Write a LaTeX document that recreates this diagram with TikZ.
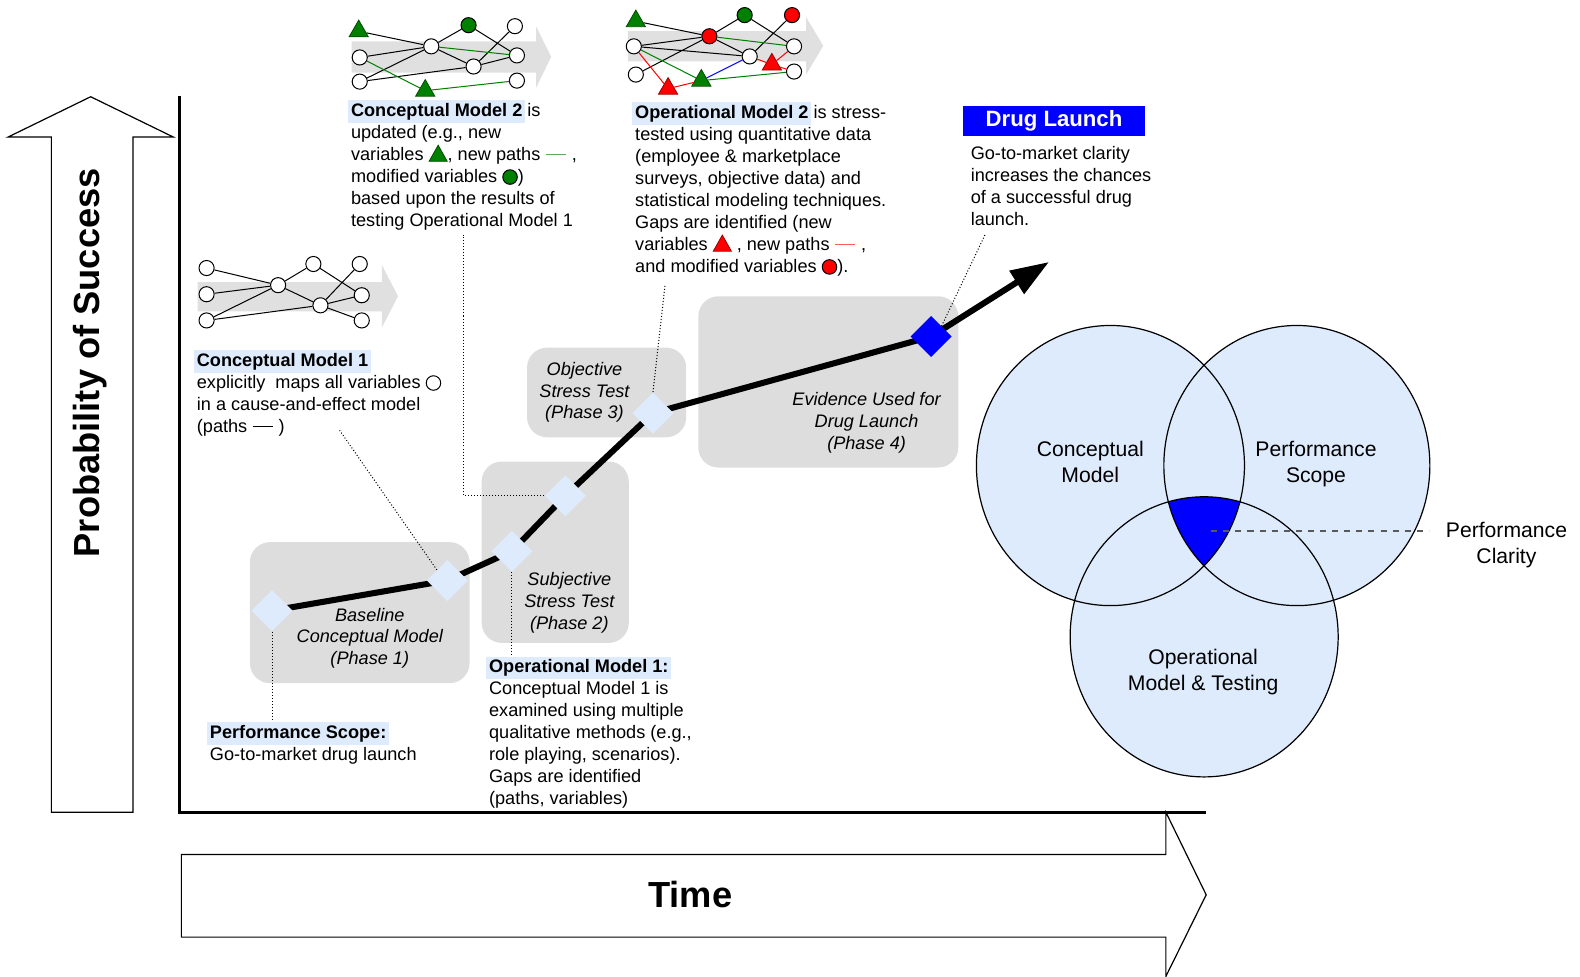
\documentclass[tikz,border=0pt]{standalone}
\usepackage{fontspec}
\setmainfont{Liberation Sans}
\usetikzlibrary{shapes.geometric,arrows.meta}
\definecolor{phasegray}{RGB}{221,221,221}
\definecolor{bandgray}{RGB}{224,224,224}
\definecolor{hlblue}{RGB}{221,235,252}
\definecolor{vgreen}{RGB}{0,128,0}
\definecolor{pathgreen}{RGB}{90,170,90}
\definecolor{pathred}{RGB}{255,90,90}
\newcommand{\hlhead}[1]{\hspace*{-1.4pt}{\setlength{\fboxsep}{1.4pt}\colorbox{hlblue}{\textbf{#1}}}\hspace*{-1.4pt}}
\newcommand{\symvar}[1]{\tikz[baseline=-2.6pt]\draw[line width=0.5pt,fill=#1] (0,0) circle (3.6pt);}
\newcommand{\symtri}[1]{\tikz[baseline=0pt]\draw[line width=0.4pt,draw=#1!60!black,fill=#1] (0,-0.5pt) -- (9pt,-0.5pt) -- (4.5pt,7.5pt) -- cycle;}
\newcommand{\sympath}[1]{\tikz[baseline=-3pt]\draw[line width=0.6pt,#1] (0,0) -- (10pt,0);}
\tikzset{
  txt/.style={align=left,anchor=base west,inner sep=0pt,font=\fontsize{9}{10.9}\selectfont},
  phasetxt/.style={align=center,anchor=base,inner sep=0pt,font=\fontsize{9}{10.8}\selectfont\itshape},
  venntxt/.style={align=center,anchor=base,inner sep=0pt,font=\fontsize{10.5}{13}\selectfont},
  milestone/.style={diamond,fill=hlblue,inner sep=0pt,minimum size=20.5pt},
  var/.style={circle,draw,fill=white,inner sep=0pt,minimum size=7.5pt,line width=0.5pt},
  newvar/.style={regular polygon,regular polygon sides=3,draw=#1!60!black,fill=#1,inner sep=0pt,minimum size=11pt,line width=0.4pt},
  leader/.style={densely dotted,line width=0.5pt},
  blockarrow/.style={draw,fill=white,line width=0.6pt},
  band/.style={fill=bandgray},
  link/.style={line width=0.5pt}
}
\begin{document}
\begin{tikzpicture}[x=0.5pt,y=-0.5pt]
\useasboundingbox (0,0) rectangle (1568,969);

\draw[blockarrow] (51,806) -- (51,136) -- (8,136) -- (90,96) -- (172,136) -- (132,136) -- (132,806) -- cycle;
\node[rotate=90,font=\fontsize{18}{18}\selectfont\bfseries] (prob) at (89,360) {Probability of Success};
\draw[blockarrow] (180,848) -- (1157,848) -- (1157,806) -- (1197,888) -- (1157,969) -- (1157,930) -- (180,930) -- cycle;
\node[font=\fontsize{18}{18}\selectfont\bfseries] (time) at (685,888) {Time};
\draw[line width=1.5pt] (178,95) -- (178,806) -- (1197,806);

\fill[phasegray,rounded corners=10pt] (248,538) rectangle (466,678);
\fill[phasegray,rounded corners=10pt] (478,458) rectangle (624,638);
\fill[phasegray,rounded corners=10pt] (523,345) rectangle (681,434);
\fill[phasegray,rounded corners=10pt] (693,294) rectangle (951,464);
\node[phasetxt] (ph1) at (367,659.7) {Baseline\\Conceptual Model\\(Phase 1)};
\node[phasetxt] (ph2) at (565,624.7) {Subjective\\Stress Test\\(Phase 2)};
\node[phasetxt] (ph3) at (580,415.7) {Objective\\Stress Test\\(Phase 3)};
\node[phasetxt] (ph4) at (860,445.7) {Evidence Used for\\Drug Launch\\(Phase 4)};

\coordinate (m1) at (270,606);
\coordinate (m2) at (444,576);
\coordinate (m3) at (508,547);
\coordinate (m4) at (561,492);
\coordinate (m5) at (648,410);
\coordinate (m6) at (924,334);
\coordinate (launch) at (1041,260);
\draw[line width=3pt,line join=round,-{Triangle[length=19pt,width=13pt]}] (m1) -- (m2) -- (m3) -- (m4) -- (m5) -- (m6) -- (launch);

\node[txt] (cm1) at (195,428.9) {\hlhead{Conceptual Model 1}\\explicitly~ maps all variables \symvar{white}\\in a cause-and-effect model\\(paths \sympath{black} )};
\node[txt] (cm2) at (348,224.5) {\hlhead{Conceptual Model 2} is\\updated (e.g., new\\variables \symtri{vgreen}, new paths \sympath{pathgreen} ,\\modified variables \symvar{vgreen})\\based upon the results of\\testing Operational Model 1};
\node[txt] (om2) at (630,270.1) {\hlhead{Operational Model 2} is stress-\\tested using quantitative data\\(employee \& marketplace\\surveys, objective data) and\\statistical modeling techniques.\\Gaps are identified (new\\variables \symtri{red} , new paths \sympath{pathred} ,\\and modified variables \symvar{red}).};
\node[fill=blue,text=white,font=\fontsize{11}{13}\selectfont\bfseries,minimum width=90pt,minimum height=15pt,inner sep=0pt] (dl) at (1046,120) {Drug Launch};
\node[txt] (dlt) at (963,223.9) {Go-to-market clarity\\increases the chances\\of a successful drug\\launch.};
\node[txt] (ps) at (208,754.3) {\hlhead{Performance Scope:}\\Go-to-market drug launch};
\node[txt] (om1) at (485,798.3) {\hlhead{Operational Model 1:}\\Conceptual Model 1 is\\examined using multiple\\qualitative methods (e.g.,\\role playing, scenarios).\\Gaps are identified\\(paths, variables)};

\node[milestone] (d1) at (m1) {};
\node[milestone] (d2) at (m2) {};
\node[milestone] (d3) at (m3) {};
\node[milestone] (d4) at (m4) {};
\node[milestone] (d5) at (m5) {};
\node[milestone,fill=blue] (d6) at (m6) {};
\draw[leader] (d1.south) -- (d1.south |- ps.north);
\draw[leader] (d2.north west) -- (337,427);
\draw[leader] (d3.south) -- (d3.south |- om1.north);
\draw[leader] (d4.west) -- (460,492) -- (460,233);
\draw[leader] (d5.north) -- (660,283);
\draw[leader] (d6.north east) -- (978,232);

\fill[band] (196,280) -- (379,280) -- (379,263) -- (395,294) -- (379,325) -- (379,309) -- (196,309) -- cycle;
\node[var] (p1) at (205,266) {};
\node[var] (p2) at (205,292) {};
\node[var] (p3) at (205,318) {};
\node[var] (p4) at (276,283) {};
\node[var] (p5) at (311,262) {};
\node[var] (p6) at (318,303) {};
\node[var] (p7) at (357,262) {};
\node[var] (p8) at (359,293) {};
\node[var] (p9) at (359,318) {};
\draw[link] (p1) -- (p4) (p2) -- (p4) (p3) -- (p4) (p3) -- (p6) (p4) -- (p5) (p4) -- (p6)
  (p5) -- (p8) (p6) -- (p7) (p6) -- (p8) (p6) -- (p9);

\fill[band] (349,41) -- (532,41) -- (532,26) -- (547,56.5) -- (532,87) -- (532,72) -- (349,72) -- cycle;
\node[newvar=vgreen] (q1) at (356,31) {};
\node[var] (q2) at (357,57) {};
\node[var] (q3) at (357,81) {};
\node[var] (q4) at (428,46) {};
\node[var,fill=vgreen] (q5) at (465,25) {};
\node[var] (q6) at (470,66) {};
\node[newvar=vgreen] (q7) at (422,90) {};
\node[var] (q8) at (511,26) {};
\node[var] (q9) at (513,55) {};
\node[var] (q10) at (513,80) {};
\draw[link] (q1) -- (q4) (q2) -- (q4) (q3) -- (q4) (q3) -- (q6) (q4) -- (q5) (q4) -- (q6)
  (q5) -- (q9) (q8) -- (q6) (q6) -- (q9);
\draw[link,vgreen] (q4) -- (q9) (q2) -- (q7) (q7) -- (q10);

\fill[band] (623,31) -- (800,31) -- (800,17) -- (817,45.5) -- (800,74) -- (800,61) -- (623,61) -- cycle;
\node[newvar=vgreen] (r1) at (631,21) {};
\node[var] (r2) at (629,46) {};
\node[var] (r3) at (631,74) {};
\node[var,fill=red] (r4) at (704,36) {};
\node[var,fill=vgreen] (r5) at (739,15) {};
\node[var,fill=red] (r6) at (786,15) {};
\node[var] (r7) at (744,56) {};
\node[newvar=red] (r8) at (766,64) {};
\node[var] (r9) at (788,46) {};
\node[var] (r10) at (788,71) {};
\node[newvar=vgreen] (r11) at (696,80) {};
\node[newvar=red] (r12) at (663,88) {};
\draw[link] (r1) -- (r4) (r2) -- (r4) (r3) -- (r4) (r2) -- (r7) (r4) -- (r5) (r4) -- (r7)
  (r5) -- (r9) (r6) -- (r7);
\draw[link,vgreen] (r4) -- (r9) (r2) -- (r11) (r11) -- (r10);
\draw[link,red] (r2) -- (r12) (r12) -- (r11) (r7) -- (r8) (r8) -- (r9) (r8) -- (r10);
\draw[link,blue] (r11) -- (r7);

\fill[hlblue] (1102,462) ellipse (133 and 139) (1287,462) ellipse (132 and 139) (1195,632) ellipse (133 and 139);
\begin{scope}
\clip (1102,462) ellipse (133 and 139);
\clip (1287,462) ellipse (132 and 139);
\fill[blue] (1195,632) ellipse (133 and 139);
\end{scope}
\draw[line width=0.6pt] (1102,462) ellipse (133 and 139) (1287,462) ellipse (132 and 139) (1195,632) ellipse (133 and 139);
\node[venntxt] (vcm) at (1082,479) {Conceptual\\Model};
\node[venntxt] (vps) at (1306,479) {Performance\\Scope};
\node[venntxt] (vom) at (1194,685) {Operational\\Model \& Testing};
\node[venntxt] (vpc) at (1495,559) {Performance\\Clarity};
\coordinate (clar) at (1202,527);
\draw[dashed,gray!70!black,line width=0.6pt] (clar) -- (1418,527);
\end{tikzpicture}
\end{document}
